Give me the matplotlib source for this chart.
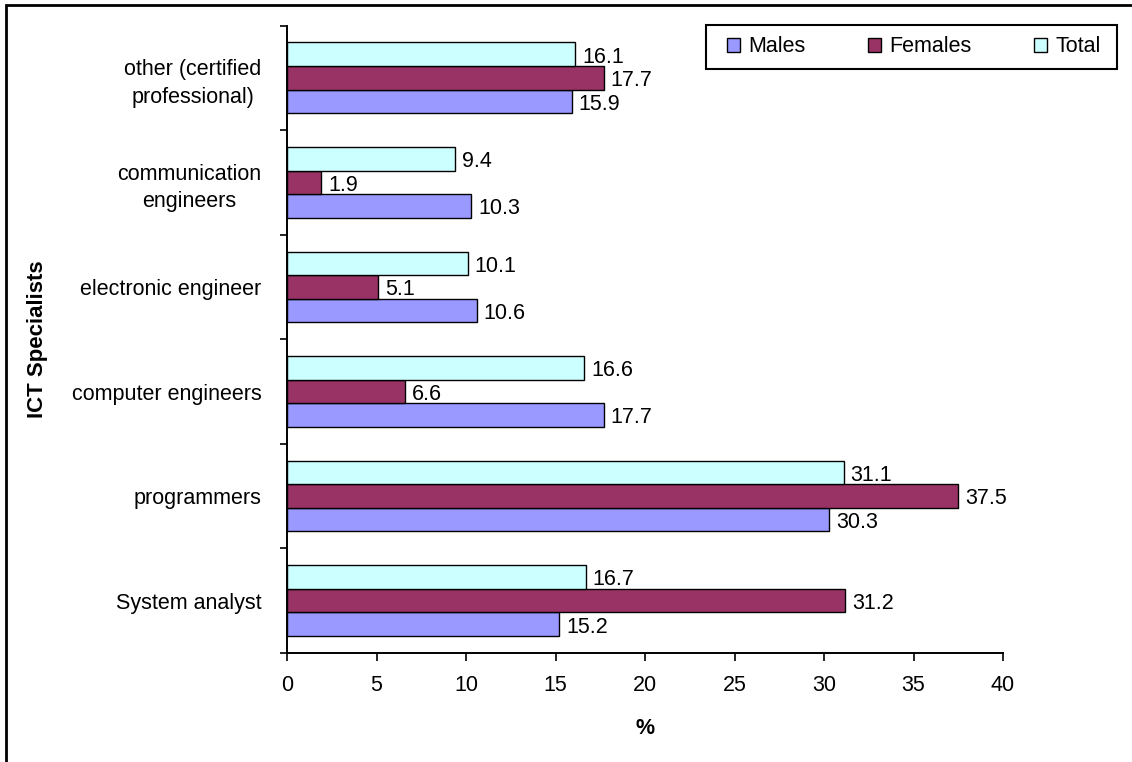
import numpy as np
import matplotlib.pyplot as plt
from matplotlib.patches import Rectangle

plt.rcParams['font.family'] = ['Liberation Sans', 'DejaVu Sans']

categories = ["System analyst", "programmers", "computer engineers",
              "electronic engineer", "communication\nengineers",
              "other (certified\nprofessional)"]
males = [15.2, 30.3, 17.7, 10.6, 10.3, 15.9]
females = [31.2, 37.5, 6.6, 5.1, 1.9, 17.7]
total = [16.7, 31.1, 16.6, 10.1, 9.4, 16.1]

series = [("Males", males, "#9999FF"),
          ("Females", females, "#993366"),
          ("Total", total, "#CCFFFF")]

W, H = 1132, 762
fs = 15.5

fig = plt.figure(figsize=(W / 100, H / 100), dpi=100)
ax = fig.add_axes([287 / W, 1 - 653 / H, (1003 - 287) / W, (653 - 25.5) / H])

# chart border (right/bottom edges fall outside the picture)
fig.patches.append(Rectangle((6 / W, -0.05), 1.2, (H - 5 - 6) / H + 0.05 + 6 / H,
                             transform=fig.transFigure, fill=False,
                             edgecolor='black', linewidth=2))

y = np.arange(len(categories))
h = 0.225
offsets = [-h, 0, h]
for (name, vals, col), off in zip(series, offsets):
    bars = ax.barh(y + off, vals, height=h, color=col, edgecolor='black',
                   linewidth=1.0, label=name)
    for b, v in zip(bars, vals):
        ax.annotate(f"{v:.1f}", (v, b.get_y() + b.get_height() / 2),
                    xytext=(5, -2), textcoords='offset points',
                    va='center', ha='left', fontsize=fs)

ax.set_xlim(0, 40)
ax.set_ylim(-0.5, len(categories) - 0.5)
ax.set_xticks(np.arange(0, 41, 5))
ax.tick_params(axis='x', labelsize=fs, length=6, width=1.2, direction='out', pad=10)
ax.set_yticks(y)
ax.set_yticklabels(categories, fontsize=fs, ha='right', multialignment='center',
                   linespacing=1.4)
ax.set_yticks(np.arange(-0.5, len(categories) - 0.4, 1), minor=True)
ax.tick_params(axis='y', which='major', length=0, pad=18.5)
ax.tick_params(axis='y', which='minor', length=5, width=1.2, direction='out')

ax.spines['top'].set_visible(False)
ax.spines['right'].set_visible(False)
ax.spines['left'].set_linewidth(1.4)
ax.spines['bottom'].set_linewidth(1.4)

ax.set_xlabel("%", fontsize=fs, fontweight='bold', va='center')
ax.xaxis.set_label_coords(0.5, (653 - 728) / 627.5)
ax.set_ylabel("ICT Specialists", fontsize=16, fontweight='bold', va='center')
ax.yaxis.set_label_coords((38 - 287) / 716, 0.5)

# legend box drawn separately so its padding can match the original
fig.patches.append(Rectangle((706 / W, 1 - 69 / H), (1117 - 706) / W, 44 / H,
                             transform=fig.transFigure, fill=True, facecolor='white',
                             edgecolor='black', linewidth=1.5, zorder=5))
leg = fig.legend(loc='center', bbox_to_anchor=((734 + 1094) / 2 / W, 1 - 47 / H),
                 ncol=3, fontsize=fs, frameon=False,
                 handlelength=0.6, handleheight=0.6, handletextpad=0.4,
                 columnspacing=2.9, borderpad=0)
leg.set_zorder(6)

fig.savefig("out.png", dpi=100)
